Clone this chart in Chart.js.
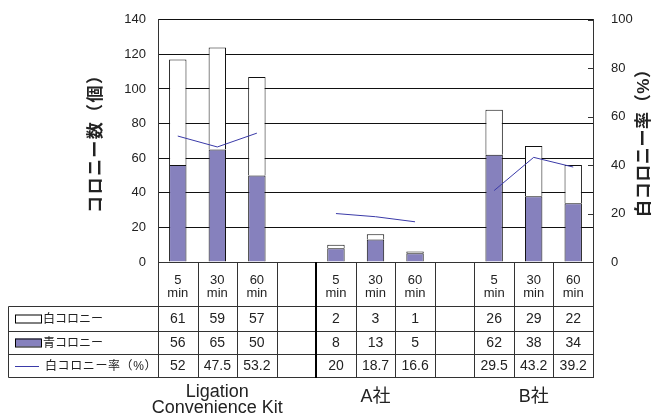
<!DOCTYPE html>
<html>
<head>
<meta charset="utf-8">
<script src="https://cdn.jsdelivr.net/npm/chart.js@4.4.1/dist/chart.umd.min.js"></script>
<style>
  html, body { margin: 0; padding: 0; background: #fff; }
  #wrap { width: 653px; height: 416px; }
</style>
</head>
<body>
<div id="wrap"><canvas id="c" width="653" height="416"></canvas></div>
<script>
// Time points per group; empty slots separate the three groups
const categories = ['5\nmin', '30\nmin', '60\nmin', '', '5\nmin', '30\nmin', '60\nmin', '', '5\nmin', '30\nmin', '60\nmin'];
const groupLabels = [['Ligation', 'Convenience Kit'], ['A社'], ['B社']];
const groupCenters = [1, 5, 9];

// Colony counts
const whiteColonies = [61, 59, 57, null, 2, 3, 1, null, 26, 29, 22];
const blueColonies = [56, 65, 50, null, 8, 13, 5, null, 62, 38, 34];
// White colony rate (%)
const whiteRate = [52, 47.5, 53.2, null, 20, 18.7, 16.6, null, 29.5, 43.2, 39.2];

const seriesNames = ['白コロニー', '青コロニー', '白コロニー率（%）'];
const leftTitle = 'コロニー数（個）';
const rightTitle = '白コロニー率（%）';
const leftTicks = [0, 20, 40, 60, 80, 100, 120, 140];
const rightTicks = [0, 20, 40, 60, 80, 100];

const FONT = '"Liberation Sans", Arial, "Noto Sans CJK JP", sans-serif';
const BLUE = '#8681bd';
const LINE = '#3a3aa8';
const INK = '#222';

const fmt = v => (v === null || v === undefined) ? '' : String(v);

// Draws text one glyph at a time, with optional extra tracking
function glyphWidth(ctx, s, gap) {
  let w = 0;
  const chars = [...s];
  chars.forEach(ch => { w += ctx.measureText(ch).width; });
  return w + gap * (chars.length - 1);
}
function drawGlyphs(ctx, s, x, y, align, gap = 0) {
  const total = glyphWidth(ctx, s, gap);
  let cx = align === 'center' ? x - total / 2 : x;
  const prev = ctx.textAlign;
  ctx.textAlign = 'left';
  for (const ch of s) {
    ctx.fillText(ch, cx, y);
    cx += ctx.measureText(ch).width + gap;
  }
  ctx.textAlign = prev;
}

// Data table, axis titles and group names drawn under the plot
const tablePlugin = {
  id: 'dataTable',
  afterDraw(chart) {
    const ctx = chart.ctx;
    const x = chart.scales.x;
    const y1 = chart.scales.y1;
    const area = chart.chartArea;
    const n = categories.length;
    const half = (x.getPixelForValue(1) - x.getPixelForValue(0)) / 2;
    const edges = [];
    for (let i = 0; i < n; i++) edges.push(x.getPixelForValue(i) - half);
    edges.push(x.getPixelForValue(n - 1) + half);

    const top = area.bottom;
    const rowY = [top, top + 44, top + 69, top + 92, top + 115];
    const legendLeft = 8;

    ctx.save();
    // inside tick marks on the right axis
    ctx.strokeStyle = '#333';
    ctx.lineWidth = 1;
    rightTicks.forEach(t => {
      const py = Math.round(y1.getPixelForValue(t)) + 0.5;
      ctx.beginPath();
      ctx.moveTo(area.right - 5, py);
      ctx.lineTo(area.right, py);
      ctx.stroke();
    });

    // table grid
    ctx.strokeStyle = '#333';
    ctx.lineWidth = 1;
    const L = Math.round(edges[0]) + 0.5, R = Math.round(edges[n]) + 0.5;
    ctx.beginPath();
    ctx.moveTo(L, Math.round(rowY[0]) + 0.5); ctx.lineTo(R, Math.round(rowY[0]) + 0.5);
    for (let r = 1; r < rowY.length; r++) {
      const py = Math.round(rowY[r]) + 0.5;
      ctx.moveTo(legendLeft + 0.5, py); ctx.lineTo(R, py);
    }
    ctx.moveTo(legendLeft + 0.5, Math.round(rowY[1]) + 0.5);
    ctx.lineTo(legendLeft + 0.5, Math.round(rowY[4]) + 0.5);
    edges.forEach((ex, i) => {
      if (i === 4) return;
      const px = Math.round(ex) + 0.5;
      ctx.moveTo(px, rowY[0]); ctx.lineTo(px, Math.round(rowY[4]) + 1);
    });
    ctx.stroke();
    // heavier divider before the second group
    ctx.strokeStyle = '#000';
    ctx.lineWidth = 2;
    ctx.beginPath();
    ctx.moveTo(Math.round(edges[4]), rowY[0]);
    ctx.lineTo(Math.round(edges[4]), Math.round(rowY[4]) + 1);
    ctx.stroke();

    // header labels
    ctx.fillStyle = INK;
    ctx.textAlign = 'center';
    ctx.textBaseline = 'middle';
    ctx.font = '13px ' + FONT;
    categories.forEach((c, i) => {
      const cx = x.getPixelForValue(i);
      const lines = c.split('\n');
      lines.forEach((ln, k) => ctx.fillText(ln, cx, top + 18 + k * 13));
    });

    // values
    ctx.font = '14px ' + FONT;
    const rows = [whiteColonies, blueColonies, whiteRate];
    rows.forEach((vals, r) => {
      const cy = (rowY[r + 1] + rowY[r + 2]) / 2 + 1;
      vals.forEach((v, i) => ctx.fillText(fmt(v), x.getPixelForValue(i), cy));
    });

    // legend keys
    const sx = 15, sw = 26, sh = 8;
    let cy = (rowY[1] + rowY[2]) / 2;
    ctx.fillStyle = '#fff';
    ctx.strokeStyle = '#000';
    ctx.lineWidth = 1;
    ctx.fillRect(sx, cy - 4, sw, sh);
    ctx.strokeRect(sx + 0.5, cy - 4 + 0.5, sw, sh);
    cy = (rowY[2] + rowY[3]) / 2;
    ctx.fillStyle = BLUE;
    ctx.fillRect(sx, cy - 4, sw, sh);
    ctx.strokeRect(sx + 0.5, cy - 4 + 0.5, sw, sh);
    cy = (rowY[3] + rowY[4]) / 2;
    ctx.strokeStyle = LINE;
    ctx.beginPath();
    ctx.moveTo(sx, Math.round(cy) + 0.5);
    ctx.lineTo(sx + 24, Math.round(cy) + 0.5);
    ctx.stroke();

    ctx.fillStyle = INK;
    ctx.font = '12px ' + FONT;
    drawGlyphs(ctx, seriesNames[0], 43, (rowY[1] + rowY[2]) / 2 + 1, 'left');
    drawGlyphs(ctx, seriesNames[1], 43, (rowY[2] + rowY[3]) / 2 + 1, 'left');
    drawGlyphs(ctx, seriesNames[2], 45, (rowY[3] + rowY[4]) / 2 + 1, 'left', 0.6);

    // group names
    ctx.textAlign = 'center';
    ctx.font = '18px ' + FONT;
    groupLabels.forEach((g, i) => {
      const cx = x.getPixelForValue(groupCenters[i]);
      const base = g.length === 1 ? 397 : 392;
      g.forEach((ln, k) => ctx.fillText(ln, cx, base + k * 16));
    });

    // axis titles
    ctx.font = 'bold 17px ' + FONT;
    ctx.save();
    ctx.translate(96, 140);
    ctx.rotate(-Math.PI / 2);
    drawGlyphs(ctx, leftTitle, 0, 0, 'center', 1.4);
    ctx.restore();
    ctx.save();
    ctx.translate(644, 139);
    ctx.rotate(-Math.PI / 2);
    drawGlyphs(ctx, rightTitle, 0, 0, 'center', 0.6);
    ctx.restore();

    ctx.restore();
  }
};

new Chart(document.getElementById('c'), {
  data: {
    labels: categories,
    datasets: [
      {
        type: 'line',
        label: seriesNames[2],
        data: whiteRate,
        yAxisID: 'y1',
        borderColor: LINE,
        borderWidth: 1,
        pointRadius: 0,
        tension: 0,
        spanGaps: false,
        order: 0
      },
      {
        type: 'bar',
        label: seriesNames[1],
        data: blueColonies,
        yAxisID: 'y',
        stack: 's',
        backgroundColor: BLUE,
        borderColor: '#111',
        borderWidth: 1,
        barPercentage: 0.44,
        categoryPercentage: 1,
        order: 1
      },
      {
        type: 'bar',
        label: seriesNames[0],
        data: whiteColonies,
        yAxisID: 'y',
        stack: 's',
        backgroundColor: '#fff',
        borderColor: '#111',
        borderWidth: 1,
        barPercentage: 0.44,
        categoryPercentage: 1,
        order: 2
      }
    ]
  },
  options: {
    responsive: false,
    animation: false,
    layout: { padding: { left: 0, right: 0, top: 19, bottom: 154 } },
    plugins: { legend: { display: false }, tooltip: { enabled: false } },
    scales: {
      x: {
        display: false,
        stacked: true,
        offset: true
      },
      y: {
        position: 'left',
        stacked: true,
        min: 0,
        max: 140,
        afterBuildTicks: s => { s.ticks = leftTicks.map(v => ({ value: v })); },
        afterFit: s => { s.width = 158; },
        grid: { color: '#111', lineWidth: 1, drawTicks: false },
        border: { display: true, color: '#333' },
        ticks: { color: INK, padding: 12, font: { family: FONT, size: 13 } }
      },
      y1: {
        position: 'right',
        min: 0,
        max: 100,
        afterBuildTicks: s => { s.ticks = rightTicks.map(v => ({ value: v })); },
        afterFit: s => { s.width = 60; },
        grid: { display: false, drawOnChartArea: false },
        border: { display: true, color: '#333' },
        ticks: { color: INK, padding: 10, font: { family: FONT, size: 13 } }
      }
    }
  },
  plugins: [tablePlugin]
});
</script>
</body>
</html>
